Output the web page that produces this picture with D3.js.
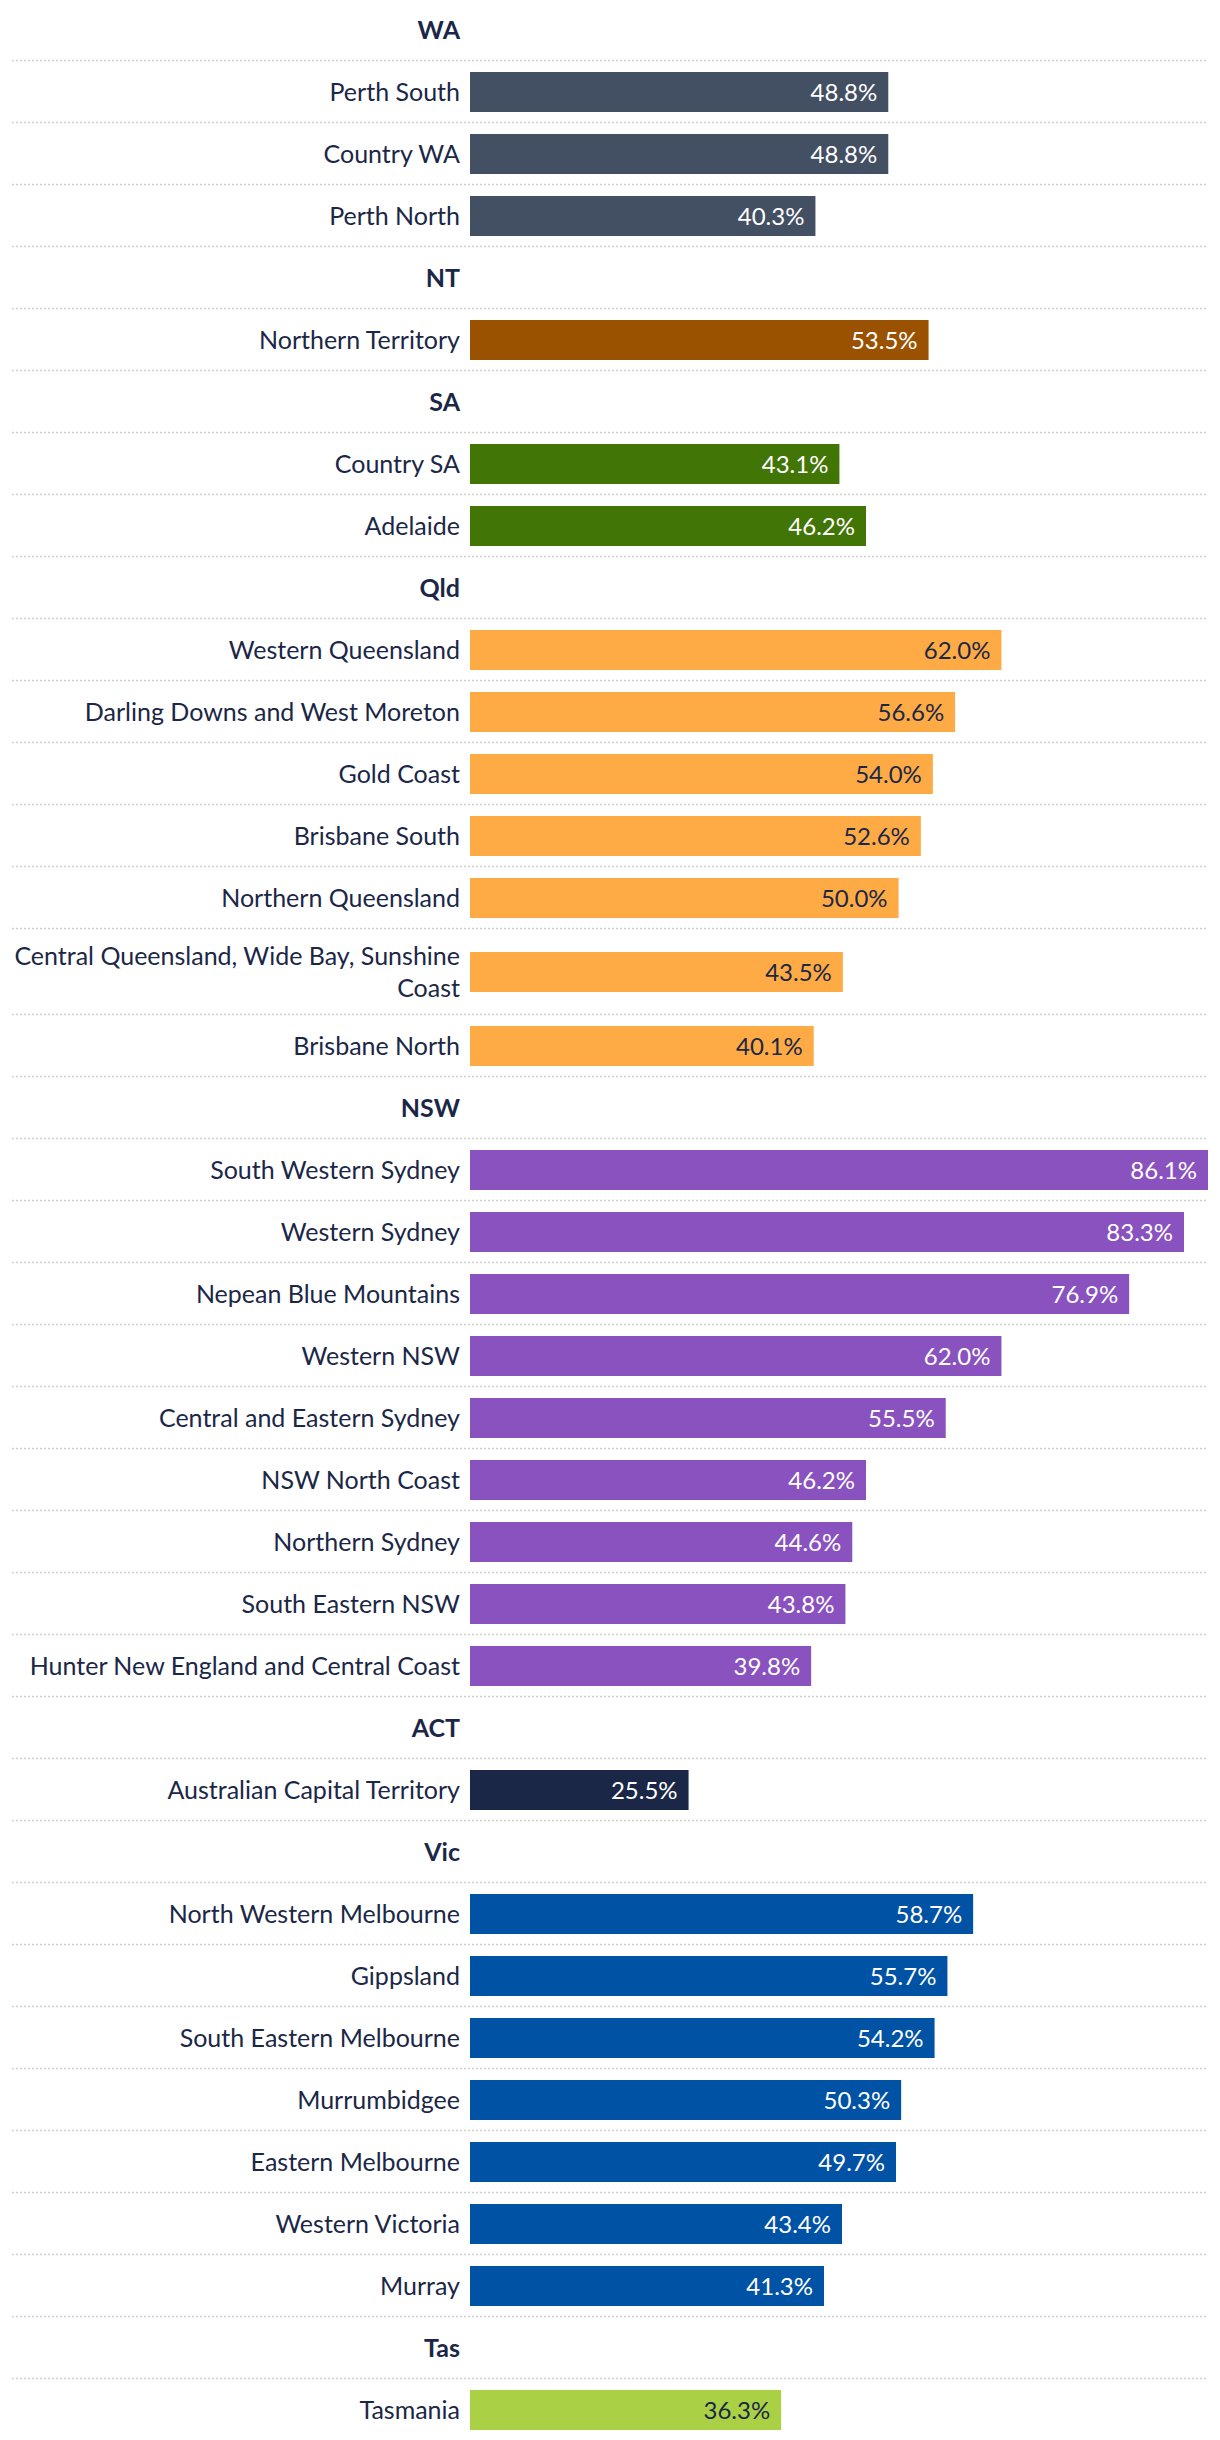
<!DOCTYPE html>
<html><head><meta charset="utf-8">
<script src="https://cdn.jsdelivr.net/npm/d3@7"></script>
<style>
html,body{margin:0;padding:0;background:#fff;}
svg text{font-family:Lato,"Open Sans",sans-serif;}
</style></head>
<body><svg id="chart" width="1220" height="2440"></svg>
<script>
const states = ["WA","NT","SA","Qld","NSW","ACT","Vic","Tas"];
const stateColors = ["#434f63","#9a5200","#417505","#ffab45","#8952be","#1b2747","#0052a5","#aad146"];
const valueTextColors = ["#fff","#fff","#fff","#1b2747","#fff","#fff","#fff","#1b2747"];
const regions = [
  ["Perth South","Country WA","Perth North"],
  ["Northern Territory"],
  ["Country SA","Adelaide"],
  ["Western Queensland","Darling Downs and West Moreton","Gold Coast","Brisbane South","Northern Queensland","Central Queensland, Wide Bay, Sunshine Coast","Brisbane North"],
  ["South Western Sydney","Western Sydney","Nepean Blue Mountains","Western NSW","Central and Eastern Sydney","NSW North Coast","Northern Sydney","South Eastern NSW","Hunter New England and Central Coast"],
  ["Australian Capital Territory"],
  ["North Western Melbourne","Gippsland","South Eastern Melbourne","Murrumbidgee","Eastern Melbourne","Western Victoria","Murray"],
  ["Tasmania"]
];
const values = [
  [48.8,48.8,40.3],
  [53.5],
  [43.1,46.2],
  [62.0,56.6,54.0,52.6,50.0,43.5,40.1],
  [86.1,83.3,76.9,62.0,55.5,46.2,44.6,43.8,39.8],
  [25.5],
  [58.7,55.7,54.2,50.3,49.7,43.4,41.3],
  [36.3]
];

const svg = d3.select("#chart");
const textColor = "#1b2747";
const fontSize = 25, valueFontSize = 24;
const labelRight = 460, labelMaxW = 452;
const x = d3.scaleLinear().domain([0, 86.1]).range([470, 1208]);
const barH = 40, baseRowH = 62, lineH = 32;

const rows = [];
states.forEach((s, i) => {
  rows.push({type: "header", label: s});
  regions[i].forEach((r, j) => rows.push({type: "bar", label: r, value: values[i][j], color: stateColors[i], vcolor: valueTextColors[i]}));
});

const meas = svg.append("text").attr("font-size", fontSize);
function wrap(str) {
  const words = str.split(" ");
  const lines = [];
  let cur = "";
  words.forEach(w => {
    const t = cur ? cur + " " + w : w;
    meas.text(t);
    if (meas.node().getComputedTextLength() > labelMaxW && cur) { lines.push(cur); cur = w; }
    else cur = t;
  });
  if (cur) lines.push(cur);
  return lines;
}
rows.forEach(r => { r.lines = r.type === "bar" ? wrap(r.label) : [r.label]; r.h = Math.max(baseRowH, r.lines.length * lineH + 22); });
meas.remove();

let y0 = -1;
rows.forEach(r => { r.y = y0; y0 += r.h; });

const g = svg.selectAll("g.row").data(rows).join("g").attr("class", "row")
  .attr("transform", d => `translate(0,${d.y})`);

g.filter((d, i) => i < rows.length - 1).append("line")
  .attr("x1", 12).attr("x2", 1208)
  .attr("y1", d => d.h - 0.5).attr("y2", d => d.h - 0.5)
  .attr("stroke", "#d0d0d0").attr("stroke-width", 1.5).attr("stroke-dasharray", "2,2");

g.each(function(d) {
  const t = d3.select(this).append("text")
    .attr("text-anchor", "end").attr("font-size", fontSize)
    .attr("font-weight", d.type === "header" ? 700 : 400)
    .attr("fill", textColor);
  const n = d.lines.length;
  const c = d.h / 2;
  d.lines.forEach((ln, k) => {
    t.append("tspan").attr("x", labelRight)
      .attr("y", c + 9 + (k - (n - 1) / 2) * lineH).text(ln);
  });
});

const b = g.filter(d => d.type === "bar");
b.append("rect")
  .attr("x", x(0)).attr("y", d => d.h / 2 - barH / 2)
  .attr("width", d => x(d.value) - x(0)).attr("height", barH)
  .attr("fill", d => d.color);
b.append("text")
  .attr("x", d => x(d.value) - 11).attr("y", d => d.h / 2 + 8.5)
  .attr("text-anchor", "end").attr("font-size", valueFontSize)
  .attr("fill", d => d.vcolor)
  .text(d => d.value.toFixed(1) + "%");
</script></body></html>
